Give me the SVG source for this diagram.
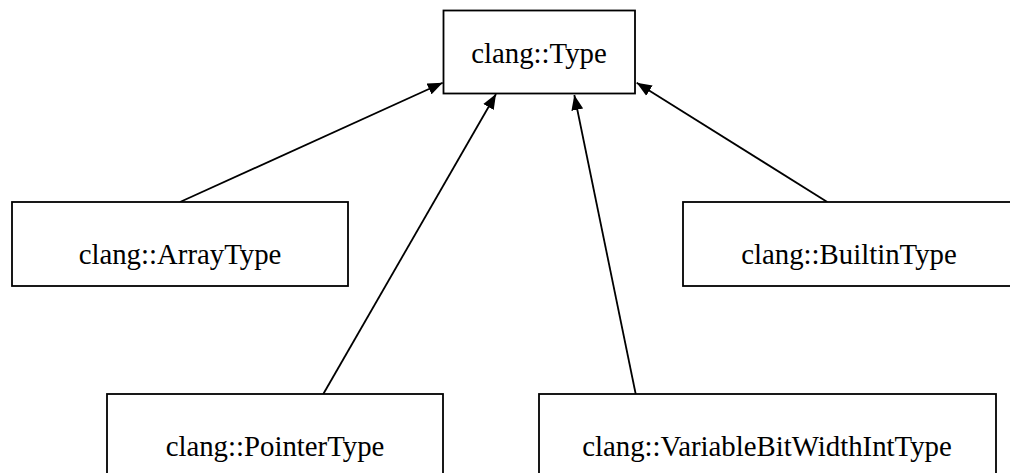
<svg xmlns="http://www.w3.org/2000/svg" width="1010" height="473" viewBox="0 0 1010 473">
<style>
.box{fill:#fff;stroke:#000;stroke-width:1.8}
.lbl{font-family:"Liberation Serif","Times New Roman",serif;font-size:28.8px;fill:#000;text-anchor:middle}
.edge{stroke:#000;stroke-width:1.8;fill:none}
</style>
<defs>
<marker id="arr" markerWidth="16" markerHeight="13" refX="15" refY="6.5" orient="auto" markerUnits="userSpaceOnUse">
<path d="M0,0.5 L15,6.5 L0,12.5 Z" fill="#000"/>
</marker>
</defs>
<rect width="1010" height="473" fill="#fff"/>
<g id="connectors">
<line class="edge" x1="180" y1="202" x2="442.7" y2="82.7" marker-end="url(#arr)"/>
<line class="edge" x1="323.3" y1="394" x2="496" y2="94" marker-end="url(#arr)"/>
<line class="edge" x1="635.7" y1="394" x2="574.3" y2="95" marker-end="url(#arr)"/>
<line class="edge" x1="827.3" y1="202" x2="636.7" y2="82.7" marker-end="url(#arr)"/>
</g>
<g id="node-type">
<rect class="box" x="443.5" y="10.5" width="191.5" height="83"/>
<text class="lbl" x="539" y="63">clang::Type</text>
</g>
<g id="node-arraytype">
<rect class="box" x="12" y="202" width="336" height="84"/>
<text class="lbl" x="180" y="264">clang::ArrayType</text>
</g>
<g id="node-builtintype">
<rect class="box" x="683" y="202" width="332" height="84"/>
<text class="lbl" x="849" y="264">clang::BuiltinType</text>
</g>
<g id="node-pointertype">
<rect class="box" x="107" y="394" width="336" height="90"/>
<text class="lbl" x="275" y="456">clang::PointerType</text>
</g>
<g id="node-variablebitwidthinttype">
<rect class="box" x="539" y="394" width="457" height="90"/>
<text class="lbl" x="767" y="456">clang::VariableBitWidthIntType</text>
</g>
</svg>
